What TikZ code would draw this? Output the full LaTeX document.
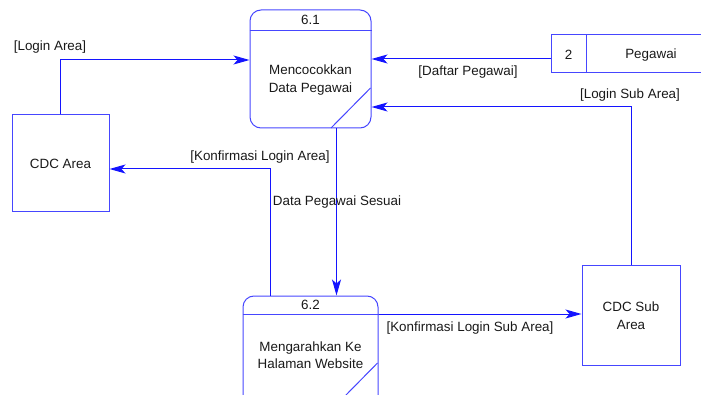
\documentclass[tikz,border=0pt]{standalone}
\usepackage{fontspec}
\setmainfont{Liberation Sans}
\usetikzlibrary{arrows.meta}
\definecolor{flowblue}{RGB}{20,20,255}
\definecolor{boxblue}{RGB}{70,70,255}
\definecolor{txt}{RGB}{25,25,25}
\tikzset{
  every node/.style={text=txt, font=\fontsize{13.4}{17.5}\selectfont},
  process/.style={draw=boxblue, line width=1pt, rounded corners=11pt, minimum width=#1, inner sep=0pt},
  entity/.style={draw=boxblue, line width=1pt, inner sep=0pt},
  flow/.style={draw=flowblue, line width=1pt, -{Stealth[length=16pt, width=9pt, inset=4pt]}},
  plain/.style={draw=boxblue, line width=1pt},
  lbl/.style={inner sep=0pt, align=center}
}
\begin{document}
\begin{tikzpicture}[x=1pt, y=-1pt]
\useasboundingbox (0,0) rectangle (701,395);
\clip (0,0) rectangle (701,395);

% process 6.1
\node[process=121pt, minimum height=118pt] (p61) at (310.5,69) {};
\draw[plain] (p61.west |- 0,31) -- (p61.east |- 0,31);
\draw[plain] (370.5,88) -- (331,128);
\node[lbl] (n61) at (310.5,20) {6.1};
\node[lbl] (t61) at (310.5,80) {Mencocokkan\\Data Pegawai};

% process 6.2 (runs past the lower edge)
\node[process=135pt, minimum height=122pt] (p62) at (310.5,357) {};
\draw[plain] (p62.west |- 0,314) -- (p62.east |- 0,314);
\draw[plain] (377.5,363) -- (345,396);
\node[lbl] (n62) at (310.5,305) {6.2};
\node[lbl] (t62) at (310.5,355) {Mengarahkan Ke\\Halaman Website};

% external entities
\node[entity, minimum width=97pt, minimum height=97pt] (cdc) at (60.5,163.5) {CDC Area};
\node[entity, minimum width=98pt, minimum height=99pt, align=center] (sub) at (631,315.5) {CDC Sub\\Area};

% data store
\coordinate (st) at (551,54);
\draw[plain] (720,35) -- (551,35) -- (551,73) -- (720,73);
\draw[plain] (586,35) -- (586,73);
\node[lbl] (sn) at (568.5,55) {2};
\node[lbl] (sname) at (651,55) {Pegawai};

% flows
\draw[flow] (cdc.north) |- (p61.west |- 0,60);
\node[lbl] at (50,47) {[Login Area]};

\draw[flow] (st |- 0,59) -- (p61.east |- 0,59);
\node[lbl] at (468,72) {[Daftar Pegawai]};

\draw[flow] (sub.north) |- (p61.east |- 0,107);
\node[lbl] at (630,95) {[Login Sub Area]};

\draw[flow] (p62.north -| 270,0) |- (cdc.east |- 0,169);
\node[lbl] at (260,157) {[Konfirmasi Login Area]};

\draw[flow] (p61.south -| 336.5,0) -- (p62.north -| 336.5,0);
\node[lbl] at (337,202) {Data Pegawai Sesuai};

\draw[flow] (p62.east |- 0,314) -- (sub.west |- 0,314);
\node[lbl] at (470,328) {[Konfirmasi Login Sub Area]};
\end{tikzpicture}
\end{document}
